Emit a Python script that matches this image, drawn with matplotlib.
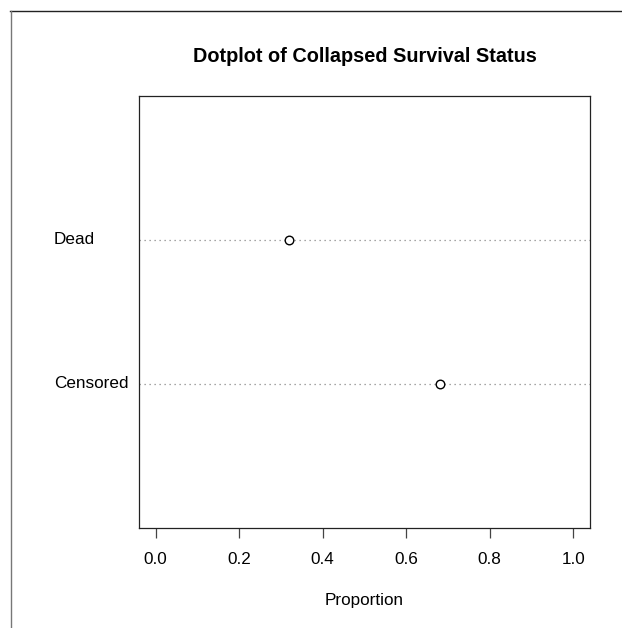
import matplotlib
matplotlib.use("Agg")
import matplotlib.pyplot as plt
from matplotlib.lines import Line2D

categories = ["Censored", "Dead"]
proportions = [0.68, 0.32]
xticks = [0.0, 0.2, 0.4, 0.6, 0.8, 1.0]
xtick_labels = ["0.0", "0.2", "0.4", "0.6", "0.8", "1.0"]

plt.rcParams['font.family'] = ['Liberation Sans', 'DejaVu Sans']

W, H = 622, 628
fig = plt.figure(figsize=(W / 100, H / 100), dpi=100)

# axes box in pixels
L, R, T, B = 139, 590, 96, 528
ax = fig.add_axes([L / W, 1 - B / H, (R - L) / W, (B - T) / H])

ypos = list(range(1, len(categories) + 1))
for y in ypos:
    ax.axhline(y, color="#888888", lw=0.9, ls=(0, (1, 3)), zorder=1)
ax.scatter(proportions, ypos, s=38, facecolors="white", edgecolors="black",
           linewidths=1.0, zorder=3)

ax.set_xlim(-0.04, 1.04)
ax.set_ylim(0, len(categories) + 1)
ax.set_xticks(xticks)
ax.set_xticklabels(xtick_labels, fontsize=12.3)
ax.set_yticks([])
ax.tick_params(axis="x", length=7, width=0.9, color="#444444", pad=10)
for s in ax.spines.values():
    s.set_linewidth(0.9)
    s.set_color("#222222")

# category labels, left aligned
for y, c in zip(ypos, categories):
    ax.text(54 / W, 0, c, transform=fig.transFigure, fontsize=12.3,
            ha="left", va="center")
# reposition using blended transform
for t in list(ax.texts):
    t.remove()
import matplotlib.transforms as mtransforms
trans = mtransforms.blended_transform_factory(fig.transFigure, ax.transData)
for y, c in zip(ypos, categories):
    ax.text(54 / W, y, c, transform=trans, fontsize=12.3, ha="left", va="center")

fig.text((L + R) / 2 / W, 1 - 57 / H, "Dotplot of Collapsed Survival Status",
         ha="center", va="center", fontsize=14.3, fontweight="bold")
fig.text((L + R) / 2 / W, 1 - 601 / H, "Proportion", ha="center", va="center",
         fontsize=12.3)

# partial frame lines
fig.add_artist(Line2D([10 / W, 1.0], [1 - 10.5 / H, 1 - 10.5 / H],
                      transform=fig.transFigure, color="#222222", lw=1.0))
fig.add_artist(Line2D([10.5 / W, 10.5 / W], [0, 1 - 10.5 / H],
                      transform=fig.transFigure, color="#777777", lw=1.0))

fig.savefig("out.png", dpi=100)
